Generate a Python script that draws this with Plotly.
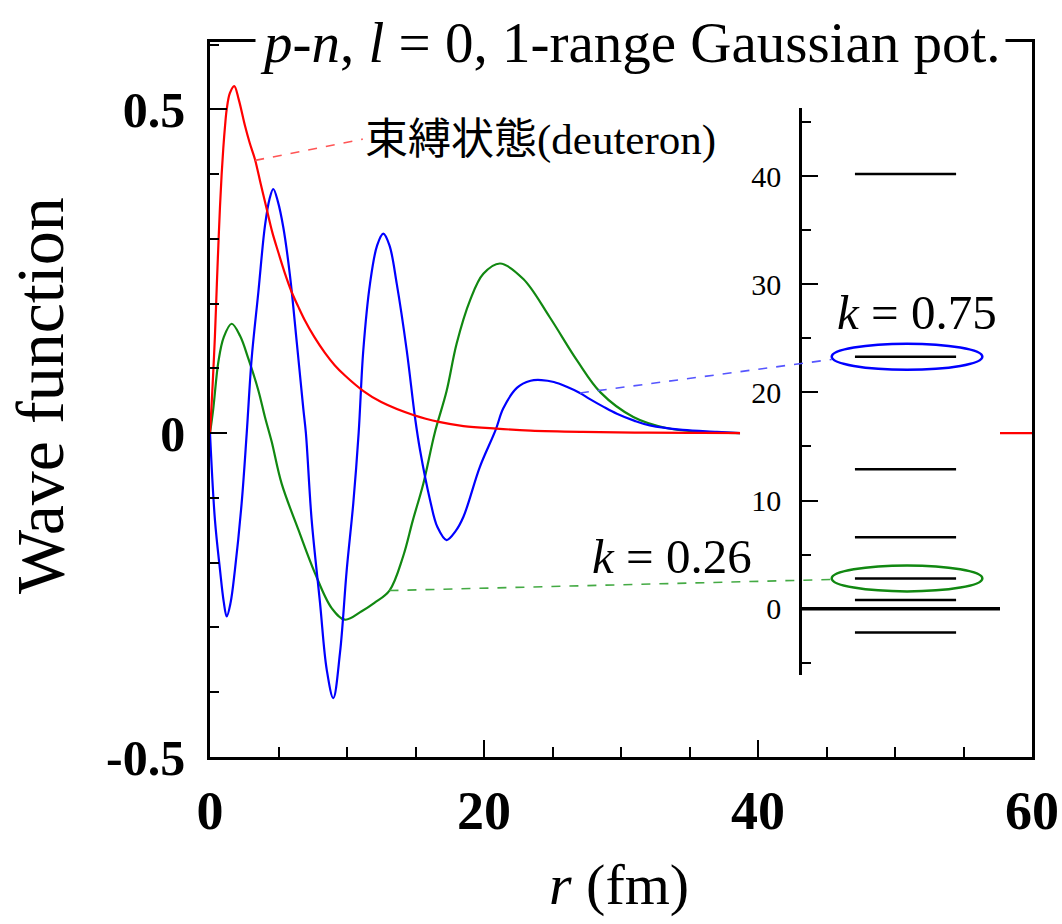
import numpy as np
import plotly.graph_objects as go

# ---------------- data ----------------
# Bound state (deuteron) radial wave function
r_bound = [0, 0.12, 0.25, 0.36, 0.5, 0.61, 0.73, 0.85, 0.97, 1.1, 1.22, 1.45, 1.77,
           2.1, 2.55, 2.9, 3.28, 3.7, 4.14, 4.55, 4.99, 5.45, 5.96, 6.45, 6.93, 7.6,
           8.39, 9.1, 9.85, 11.2, 12.5, 14.84, 16.8, 18.5, 20.9, 23.4, 27.2, 31, 35,
           40, 50, 60]
u_bound = [0, 0.045, 0.10, 0.15, 0.23, 0.29, 0.35, 0.40, 0.44, 0.475, 0.50, 0.525,
           0.536, 0.515, 0.475, 0.448, 0.423, 0.385, 0.346, 0.31, 0.279, 0.248, 0.218,
           0.195, 0.174, 0.149, 0.124, 0.105, 0.089, 0.065, 0.048, 0.028, 0.017, 0.011,
           0.007, 0.004, 0.002, 0.001, 0.0005, 0, 0, 0]

# Discretised continuum state, k = 0.75
r_k075 = [0, 0.36, 0.73, 1.0, 1.22, 1.5, 1.82, 2.31, 2.68, 3.04, 3.53, 4.01, 4.35,
          4.62, 4.95, 5.35, 5.84, 6.33, 6.81, 7.0, 7.42, 8.03, 8.52, 9.0, 9.49, 9.98,
          10.46, 10.85, 11.19, 11.68, 12.2, 12.65, 13.1, 13.63, 14.36, 14.96, 15.33,
          16.06, 16.6, 17.27, 17.9, 18.5, 19.7, 20.85, 21.4, 22.4, 23.4, 24.2, 25.1,
          26.0, 27.0, 27.7, 28.7, 29.7, 31.0, 32.1, 34.5, 37.0, 38.7]
u_k075 = [0, -0.134, -0.211, -0.26, -0.283, -0.262, -0.211, -0.108, 0.0, 0.115, 0.218,
          0.32, 0.362, 0.377, 0.358, 0.318, 0.243, 0.141, 0.038, 0.0, -0.134, -0.262,
          -0.365, -0.409, -0.339, -0.211, -0.108, 0.0, 0.128, 0.231, 0.29, 0.308, 0.29,
          0.231, 0.128, 0.025, -0.026, -0.103, -0.145, -0.165, -0.152, -0.129, -0.052,
          0.005, 0.038, 0.07, 0.081, 0.082, 0.079, 0.072, 0.062, 0.053, 0.041, 0.030,
          0.019, 0.012, 0.005, 0.002, 0]

# Discretised continuum state, k = 0.26
r_k026 = [0, 0.24, 0.61, 1.0, 1.58, 2.2, 2.8, 3.53, 4.01, 4.5, 5.23, 6.45, 7.66, 8.88,
          9.85, 11.07, 12.0, 13.1, 14.1, 14.8, 15.57, 16.4, 17.27, 18.0, 18.98, 19.95,
          21.17, 22.87, 24.8, 26.8, 28.5, 30.9, 33.3, 35.8, 38.7]
u_k026 = [0, 0.038, 0.11, 0.148, 0.169, 0.15, 0.115, 0.066, 0.025, -0.013, -0.078,
          -0.149, -0.216, -0.27, -0.288, -0.275, -0.262, -0.243, -0.19, -0.135, -0.078,
          0.0, 0.065, 0.138, 0.205, 0.246, 0.262, 0.238, 0.179, 0.112, 0.063, 0.025,
          0.008, 0.002, 0]

# Energy eigenvalues (MeV) shown in the inset
levels = [-2.2, 0.8, 2.8, 6.6, 12.9, 23.3, 40.2]
level_k075 = 23.3
level_k026 = 2.8

x_ticks = [0, 20, 40, 60]
y_ticks = [-0.5, 0, 0.5]
y_ticktext = ["-0.5", "0", "0.5"]
inset_ticks = [0, 10, 20, 30, 40]

# ---------------- geometry ----------------
W, H = 1062, 924
M_L, M_R, M_T, M_B = 210, 30, 42, 167
X_RANGE = [0, 60]
Y_RANGE = [-0.5, 0.604]

INSET_XDOM = [0.6448, 0.9611]
INSET_YDOM = [0.1147, 0.9077]
INSET_XRANGE = [0, 1]
INSET_YRANGE = [-6.13, 46.3]
INSET_AXIS_POS = 0.7178
LEVEL_X = [0.442, 0.831]
ZERO_X = [0.2308, 1.0]
ELL_X = [0.3527, 0.932]
ELL_HALF_H = 1.2

SERIF = "Liberation Serif, Times New Roman, serif"
RED, BLUE, GREEN = "#ff0000", "#0000ff", "#118811"


def inset_to_main(xv, yv):
    px = INSET_XDOM[0] + (xv - INSET_XRANGE[0]) / (INSET_XRANGE[1] - INSET_XRANGE[0]) * (INSET_XDOM[1] - INSET_XDOM[0])
    py = INSET_YDOM[0] + (yv - INSET_YRANGE[0]) / (INSET_YRANGE[1] - INSET_YRANGE[0]) * (INSET_YDOM[1] - INSET_YDOM[0])
    return (X_RANGE[0] + px * (X_RANGE[1] - X_RANGE[0]),
            Y_RANGE[0] + py * (Y_RANGE[1] - Y_RANGE[0]))


fig = go.Figure()

# main wave functions
for r, u, c in [(r_k026, u_k026, GREEN), (r_k075, u_k075, BLUE), (r_bound, u_bound, RED)]:
    fig.add_trace(go.Scatter(x=r, y=u, mode="lines", line=dict(color=c, width=2.2, shape="spline", smoothing=1.0),
                             xaxis="x", yaxis="y", hoverinfo="skip", showlegend=False))

# inset panel background (hides the curves behind it)
fig.add_trace(go.Scatter(x=[INSET_XRANGE[0], INSET_XRANGE[1], INSET_XRANGE[1], INSET_XRANGE[0], INSET_XRANGE[0]],
                         y=[INSET_YRANGE[0], INSET_YRANGE[0], INSET_YRANGE[1], INSET_YRANGE[1], INSET_YRANGE[0]],
                         mode="lines", fill="toself", fillcolor="white", line=dict(width=0),
                         xaxis="x2", yaxis="y2", hoverinfo="skip", showlegend=False))

# energy levels
lx, ly = [], []
for e in levels:
    lx += [LEVEL_X[0], LEVEL_X[1], None]
    ly += [e, e, None]
fig.add_trace(go.Scatter(x=lx, y=ly, mode="lines", line=dict(color="black", width=2.5),
                         xaxis="x2", yaxis="y2", hoverinfo="skip", showlegend=False))
fig.add_trace(go.Scatter(x=ZERO_X, y=[0, 0], mode="lines", line=dict(color="black", width=3.5),
                         xaxis="x2", yaxis="y2", hoverinfo="skip", showlegend=False))

# ellipses around the selected levels
for lev, c in [(level_k075, BLUE), (level_k026, GREEN)]:
    fig.add_shape(type="circle", xref="x2", yref="y2", x0=ELL_X[0], x1=ELL_X[1],
                  y0=lev - ELL_HALF_H, y1=lev + ELL_HALF_H, line=dict(color=c, width=2.5), layer="above")

# dashed leaders
r_red, r_blue, r_green = 3.3, 27.0, 13.1
bx, by = inset_to_main(ELL_X[0], level_k075 - 0.25)
gx, gy = inset_to_main(ELL_X[0], level_k026 - 0.1)
leaders = [
    (r_red, float(np.interp(r_red, r_bound, u_bound)), 11.15, 0.454, "#ff5555"),
    (r_blue, float(np.interp(r_blue, r_k075, u_k075)), bx, by, "#5555ff"),
    (r_green, float(np.interp(r_green, r_k026, u_k026)), gx, gy, "#44aa44"),
]
for x0, y0, x1, y1, c in leaders:
    fig.add_shape(type="line", xref="x", yref="y", x0=x0, y0=y0, x1=x1, y1=y1,
                  line=dict(color=c, width=1.6, dash="dash"), layer="above")

axis_common = dict(showgrid=False, zeroline=False, showline=True, linecolor="black",
                   linewidth=2.5, ticks="inside", tickcolor="black", automargin=False)

fig.update_layout(
    width=W, height=H,
    margin=dict(l=M_L, r=M_R, t=M_T, b=M_B, pad=0, autoexpand=False),
    paper_bgcolor="white", plot_bgcolor="rgba(0,0,0,0)",
    xaxis=dict(**axis_common, range=X_RANGE, domain=[0, 1], anchor="y", mirror=True,
               tickmode="array", tickvals=x_ticks, ticklen=17, tickwidth=2,
               minor=dict(dtick=5, tick0=0, ticklen=10, tickwidth=1.5, ticks="inside", tickcolor="black"),
               tickfont=dict(family=SERIF, size=54, color="black", weight="bold"), ticklabelstandoff=4),
    yaxis=dict(**axis_common, range=Y_RANGE, domain=[0, 1], anchor="x", mirror=True,
               tickmode="array", tickvals=y_ticks, ticktext=y_ticktext, ticklen=17, tickwidth=2,
               minor=dict(dtick=0.1, tick0=0, ticklen=9, tickwidth=1.5, ticks="inside", tickcolor="black"),
               tickfont=dict(family=SERIF, size=50, color="black", weight="bold"), ticklabelstandoff=12),
    xaxis2=dict(domain=INSET_XDOM, range=INSET_XRANGE, anchor="y2", visible=False),
    yaxis2=dict(**axis_common, domain=INSET_YDOM, range=INSET_YRANGE, anchor="free",
                position=INSET_AXIS_POS, tickmode="array", tickvals=inset_ticks, ticklen=16, tickwidth=2,
                minor=dict(dtick=5, tick0=0, ticklen=9, tickwidth=2, ticks="inside", tickcolor="black"),
                tickfont=dict(family=SERIF, size=30, color="black"), ticklabelstandoff=12),
)

# texts
fig.add_annotation(xref="paper", yref="paper", x=0.512, y=1.0, xanchor="center", yanchor="middle",
                   showarrow=False, text="<i>p</i>-<i>n</i>, <i>l</i> = 0, 1-range Gaussian pot.",
                   font=dict(family=SERIF, size=57, color="black"), bgcolor="white", borderpad=4)
fig.add_annotation(xref="paper", yref="paper", x=-0.207, y=0.506, xanchor="center", yanchor="middle",
                   textangle=-90, showarrow=False,
                   text="Wave function", font=dict(family=SERIF, size=68, color="black"))
fig.add_annotation(xref="paper", yref="paper", x=0.4976, y=-0.179, xanchor="center", yanchor="middle",
                   showarrow=False, text="<i>r</i> (fm)", font=dict(family=SERIF, size=58, color="black"))
fig.add_annotation(xref="x", yref="y", x=11.2, y=0.4526, xanchor="left", yanchor="middle", showarrow=False,
                   text="束縛状態(deuteron)",
                   font=dict(family="Liberation Serif, Noto Sans CJK JP", size=43, color="black"))
fig.add_annotation(xref="x", yref="y", x=51.6, y=0.187, xanchor="center", yanchor="middle", showarrow=False,
                   text="<i>k</i> = 0.75", font=dict(family=SERIF, size=49, color="black"))
fig.add_annotation(xref="x", yref="y", x=33.75, y=-0.191, xanchor="center", yanchor="middle", showarrow=False,
                   text="<i>k</i> = 0.26", font=dict(family=SERIF, size=49, color="black"))

fig.write_html("out.html")
